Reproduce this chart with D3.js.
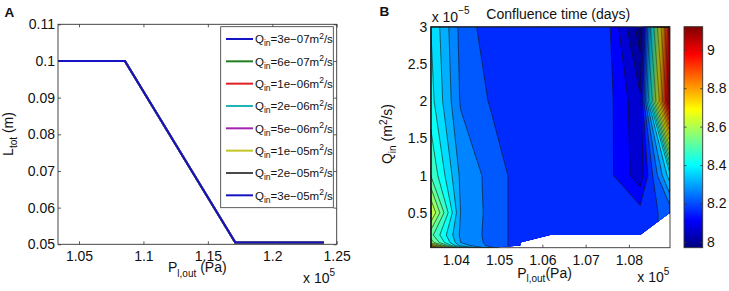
<!DOCTYPE html>
<html>
<head>
<meta charset="utf-8">
<script src="https://cdn.jsdelivr.net/npm/d3@7"></script>
<style>
  body { margin: 0; background: #fff; }
  svg text { font-family: "Liberation Sans", Arial, Helvetica, sans-serif; fill: #111; }
</style>
</head>
<body>
<div id="fig"></div>
<script>
// ---- panel A: L_tot vs outlet pressure (x 1e5 Pa), one line per inflow rate
const flowLabels = ['3e\u221207', '6e\u221207', '1e\u221206', '2e\u221206', '5e\u221206', '1e\u221205', '2e\u221205', '3e\u221205'];
const pressureA = [1.0337, 1.0856, 1.1713, 1.24];
const lengthA = [0.1, 0.1, 0.0505, 0.0505];
const xTicksA = [1.05, 1.1, 1.15, 1.2, 1.25];
const yTicksA = [0.05, 0.06, 0.07, 0.08, 0.09, 0.1, 0.11];

// ---- panel B: confluence time (days) on pressure (x 1e5 Pa) x inflow (x 1e-5 m2/s)
const pressureB = [1.0342, 1.0411, 1.0480, 1.0549, 1.0618, 1.0688, 1.0757, 1.0826, 1.0895];
const flowB = [0.03, 0.06, 0.1, 0.2, 0.5, 1, 2, 3];
const confluence = [
  [8.90, 8.45, 8.26, NaN, NaN, NaN, NaN, NaN, NaN],
  [8.72, 8.33, 8.234, 8.176, NaN, NaN, NaN, NaN, NaN],
  [8.58, 8.30, 8.234, 8.176, NaN, NaN, NaN, NaN, NaN],
  [8.52, 8.29, 8.234, 8.176, 8.165, 8.16, 8.16, 8.17, NaN],
  [8.66, 8.30, 8.234, 8.176, 8.165, 8.16, 8.16, 8.17, 8.22],
  [8.50, 8.29, 8.234, 8.176, 8.165, 8.16, 8.16, 8.07, 8.38],
  [8.42, 8.245, 8.196, 8.17, 8.165, 8.16, 8.16, 8.06, 9.12],
  [8.40, 8.235, 8.17, 8.165, 8.16, 8.16, 8.15, 7.97, 9.05]
];
const levelsB = [8.0, 8.05, 8.1, 8.15, 8.2, 8.25, 8.3, 8.35, 8.4, 8.45, 8.5, 8.55,
                 8.6, 8.65, 8.7, 8.75, 8.8, 8.85, 8.9, 8.95, 9.0, 9.05, 9.1];
const xTicksB = [1.04, 1.05, 1.06, 1.07, 1.08];
const yTicksB = [0.5, 1, 1.5, 2, 2.5, 3];
const cbarTicks = [8, 8.2, 8.4, 8.6, 8.8, 9];
const cRange = [7.97, 9.12];

// matlab default color order (8th wraps to blue)
const lineColors = ['#1414c4', '#1f7f1f', '#e02020', '#22b4b4', '#a424b0', '#c4c424', '#4a4a4a', '#1414c4'];

const FONT = '"Liberation Sans", Arial, Helvetica, sans-serif';

function jet(v) {
  const t = (v - cRange[0]) / (cRange[1] - cRange[0]);
  const f = k => Math.max(0, Math.min(1, 1.5 - Math.abs(4 * t - k)));
  return d3.rgb(255 * f(3), 255 * f(2), 255 * f(1)).formatHex();
}

function styleAxis(g) {
  g.attr("font-size", 14).attr("font-family", FONT);
  g.select(".domain").remove();
  g.selectAll(".tick line").attr("stroke", "#333").attr("stroke-width", 0.8);
  g.selectAll(".tick text").attr("fill", "#111");
}

const svg = d3.select("#fig").append("svg")
  .attr("width", 729)
  .attr("height", 291);

svg.append("rect").attr("width", 729).attr("height", 291).attr("fill", "#fff");

// ================= panel A =================
const boxA = {left: 58, right: 336.7, top: 24.3, bottom: 244.3};
const xA = d3.scaleLinear().domain([pressureA[0], 1.25]).range([boxA.left, boxA.right]);
const yA = d3.scaleLinear().domain([0.05, 0.11]).range([boxA.bottom, boxA.top]);

svg.append("g").attr("transform", `translate(0,${boxA.bottom})`)
  .call(d3.axisBottom(xA).tickValues(xTicksA).tickFormat(d => String(d)).tickSize(-3).tickSizeOuter(0).tickPadding(7.2))
  .call(styleAxis);
svg.append("g").attr("transform", `translate(0,${boxA.top})`)
  .call(d3.axisTop(xA).tickValues(xTicksA).tickFormat("").tickSize(-3).tickSizeOuter(0))
  .call(styleAxis);
svg.append("g").attr("transform", `translate(${boxA.left},0)`)
  .call(d3.axisLeft(yA).tickValues(yTicksA).tickFormat(d => String(d)).tickSize(-3).tickSizeOuter(0).tickPadding(3))
  .call(styleAxis);
svg.append("g").attr("transform", `translate(${boxA.right},0)`)
  .call(d3.axisRight(yA).tickValues(yTicksA).tickFormat("").tickSize(-3).tickSizeOuter(0))
  .call(styleAxis);

const seriesA = flowLabels.map((q, i) => ({q: q, color: lineColors[i], values: lengthA}));
const lineA = d3.line()
  .x((d, i) => xA(pressureA[i]))
  .y(d => yA(d));

svg.append("g").selectAll("path")
  .data(seriesA)
  .join("path")
    .attr("fill", "none")
    .attr("stroke", d => d.color)
    .attr("stroke-width", 2)
    .attr("d", d => lineA(d.values));

svg.append("rect")
  .attr("x", boxA.left).attr("y", boxA.top)
  .attr("width", boxA.right - boxA.left).attr("height", boxA.bottom - boxA.top)
  .attr("fill", "none").attr("stroke", "#333").attr("stroke-width", 0.9);

// legend
const legend = svg.append("g");
legend.append("rect")
  .attr("x", 220.7).attr("y", 26.7).attr("width", 112.6).attr("height", 181)
  .attr("fill", "#fff").attr("stroke", "#333").attr("stroke-width", 0.8);
const entries = legend.selectAll(".entry")
  .data(seriesA)
  .join("g")
    .attr("class", "entry")
    .attr("transform", (d, i) => `translate(0,${39 + i * 22.33})`);
entries.append("line")
  .attr("x1", 226).attr("x2", 253)
  .attr("stroke", d => d.color).attr("stroke-width", 2);
const legText = entries.append("text")
  .attr("x", 255).attr("y", 4.2)
  .attr("font-size", 11.5);
legText.append("tspan").text("Q");
legText.append("tspan").attr("dy", 3).attr("font-size", 8.5).text("in");
legText.append("tspan").attr("dy", -3).text(d => "=" + d.q + "m");
legText.append("tspan").attr("dy", -4.5).attr("font-size", 8.5).text("2");
legText.append("tspan").attr("dy", 4.5).text("/s");

// labels A
svg.append("text").attr("x", 4.5).attr("y", 17)
  .attr("font-size", 13.5).attr("font-weight", "bold").text("A");

const xlabA = svg.append("text").attr("x", 197.3).attr("y", 272)
  .attr("text-anchor", "middle").attr("font-size", 14);
xlabA.append("tspan").text("P");
xlabA.append("tspan").attr("dy", 4.5).attr("font-size", 10).text("l,out");
xlabA.append("tspan").attr("dy", -4.5).text(" (Pa)");

const ylabA = svg.append("text")
  .attr("transform", "translate(13,134) rotate(-90)")
  .attr("text-anchor", "middle").attr("font-size", 14);
ylabA.append("tspan").text("L");
ylabA.append("tspan").attr("dy", 4).attr("font-size", 10).text("tot");
ylabA.append("tspan").attr("dy", -4).text(" (m)");

const expA = svg.append("text").attr("x", 303).attr("y", 283).attr("font-size", 14);
expA.append("tspan").text("x 10");
expA.append("tspan").attr("dy", -7).attr("font-size", 10).text("5");

// ================= panel B =================
const boxB = {left: 430.7, right: 670, top: 26.7, bottom: 247.7};
const xB = d3.scaleLinear().domain([pressureB[0], pressureB[pressureB.length - 1]]).range([boxB.left, boxB.right]);
const yB = d3.scaleLinear().domain([flowB[0], flowB[flowB.length - 1]]).range([boxB.bottom, boxB.top]);

// ticks sit under the filled contours (only visible in the empty corner)
svg.append("g").attr("transform", `translate(0,${boxB.bottom})`)
  .call(d3.axisBottom(xB).tickValues(xTicksB).tickFormat(d => String(d)).tickSize(-3).tickSizeOuter(0).tickPadding(7.6))
  .call(styleAxis);
svg.append("g").attr("transform", `translate(0,${boxB.top})`)
  .call(d3.axisTop(xB).tickValues(xTicksB).tickFormat("").tickSize(-3).tickSizeOuter(0))
  .call(styleAxis);
svg.append("g").attr("transform", `translate(${boxB.left},0)`)
  .call(d3.axisLeft(yB).tickValues(yTicksB).tickFormat(d => String(d)).tickSize(-3).tickSizeOuter(0).tickPadding(3.4))
  .call(styleAxis);
svg.append("g").attr("transform", `translate(${boxB.right},0)`)
  .call(d3.axisRight(yB).tickValues(yTicksB).tickFormat("").tickSize(-3).tickSizeOuter(0))
  .call(styleAxis);

const nx = pressureB.length, ny = flowB.length;
const raw = confluence.flat();
const mask = raw.map(v => isNaN(v) ? 0 : 1);
// gaps take the value just above them so the isolines run cleanly to the white edge
const filled = raw.slice();
for (let i = 0; i < nx; i++) {
  for (let j = ny - 2; j >= 0; j--) {
    if (isNaN(filled[j * nx + i])) filled[j * nx + i] = filled[(j + 1) * nx + i];
  }
}

// contour grid coords -> data (non uniform grid, piecewise linear)
function gridToData(arr, c) {
  const u = Math.max(0, Math.min(arr.length - 1, c - 0.5));
  const i = Math.min(Math.floor(u), arr.length - 2);
  return arr[i] + (u - i) * (arr[i + 1] - arr[i]);
}
const gridProj = d3.geoTransform({
  point: function(x, y) {
    this.stream.point(xB(gridToData(pressureB, x)), yB(gridToData(flowB, y)));
  }
});
const cpath = d3.geoPath(gridProj);

const validArea = d3.contours().size([nx, ny]).thresholds([0.999])(mask)[0];
svg.append("clipPath").attr("id", "validB")
  .append("path").attr("d", cpath(validArea));

const bands = d3.contours().size([nx, ny]).thresholds(levelsB)(filled);

const plotB = svg.append("g").attr("clip-path", "url(#validB)");
plotB.append("rect")
  .attr("x", boxB.left).attr("y", boxB.top)
  .attr("width", boxB.right - boxB.left).attr("height", boxB.bottom - boxB.top)
  .attr("fill", jet(cRange[0] + 0.01));
plotB.append("g").selectAll("path")
  .data(bands)
  .join("path")
    .attr("fill", d => jet(Math.min(d.value + 0.0125, cRange[1])))
    .attr("d", cpath);
plotB.append("g").selectAll("path")
  .data(bands)
  .join("path")
    .attr("fill", "none")
    .attr("stroke", "#111")
    .attr("stroke-width", 0.6)
    .attr("d", cpath);

svg.append("rect")
  .attr("x", boxB.left).attr("y", boxB.top)
  .attr("width", boxB.right - boxB.left).attr("height", boxB.bottom - boxB.top)
  .attr("fill", "none").attr("stroke", "#333").attr("stroke-width", 0.9);

// colorbar
const cbar = {left: 684, right: 702.7};
const cScale = d3.scaleLinear().domain(cRange).range([boxB.bottom, boxB.top]);
const grad = svg.append("defs").append("linearGradient")
  .attr("id", "jetGrad").attr("x1", 0).attr("y1", 1).attr("x2", 0).attr("y2", 0);
grad.selectAll("stop")
  .data([0, 0.125, 0.375, 0.625, 0.875, 1])
  .join("stop")
    .attr("offset", d => d)
    .attr("stop-color", d => jet(cRange[0] + d * (cRange[1] - cRange[0])));
svg.append("rect")
  .attr("x", cbar.left).attr("y", boxB.top)
  .attr("width", cbar.right - cbar.left).attr("height", boxB.bottom - boxB.top)
  .attr("fill", "url(#jetGrad)");
svg.append("g").attr("transform", `translate(${cbar.right},0)`)
  .call(d3.axisRight(cScale).tickValues(cbarTicks).tickFormat(d => String(d)).tickSize(-2.5).tickSizeOuter(0).tickPadding(4.3))
  .call(styleAxis);
svg.append("g").attr("transform", `translate(${cbar.left},0)`)
  .call(d3.axisLeft(cScale).tickValues(cbarTicks).tickFormat("").tickSize(-2.5).tickSizeOuter(0))
  .call(styleAxis);
svg.append("rect")
  .attr("x", cbar.left).attr("y", boxB.top)
  .attr("width", cbar.right - cbar.left).attr("height", boxB.bottom - boxB.top)
  .attr("fill", "none").attr("stroke", "#333").attr("stroke-width", 0.9);

// labels B
svg.append("text").attr("x", 379.5).attr("y", 15.5)
  .attr("font-size", 13.5).attr("font-weight", "bold").text("B");

svg.append("text").attr("x", 558.3).attr("y", 19)
  .attr("text-anchor", "middle").attr("font-size", 14)
  .text("Confluence time (days)");

const expBy = svg.append("text").attr("x", 431.7).attr("y", 21.5).attr("font-size", 14);
expBy.append("tspan").text("x 10");
expBy.append("tspan").attr("dy", -7.5).attr("font-size", 10).text("\u22125");

const expBx = svg.append("text").attr("x", 637.3).attr("y", 281.7).attr("font-size", 14);
expBx.append("tspan").text("x 10");
expBx.append("tspan").attr("dy", -7).attr("font-size", 10).text("5");

const xlabB = svg.append("text").attr("x", 544.5).attr("y", 277.5)
  .attr("text-anchor", "middle").attr("font-size", 14);
xlabB.append("tspan").text("P");
xlabB.append("tspan").attr("dy", 4.5).attr("font-size", 10).text("l,out");
xlabB.append("tspan").attr("dy", -4.5).text("(Pa)");

const ylabB = svg.append("text")
  .attr("transform", "translate(392,134) rotate(-90)")
  .attr("text-anchor", "middle").attr("font-size", 14);
ylabB.append("tspan").text("Q");
ylabB.append("tspan").attr("dy", 4).attr("font-size", 10).text("in");
ylabB.append("tspan").attr("dy", -4).text(" (m");
ylabB.append("tspan").attr("dy", -5).attr("font-size", 10).text("2");
ylabB.append("tspan").attr("dy", 5).text("/s)");
</script>
</body>
</html>
